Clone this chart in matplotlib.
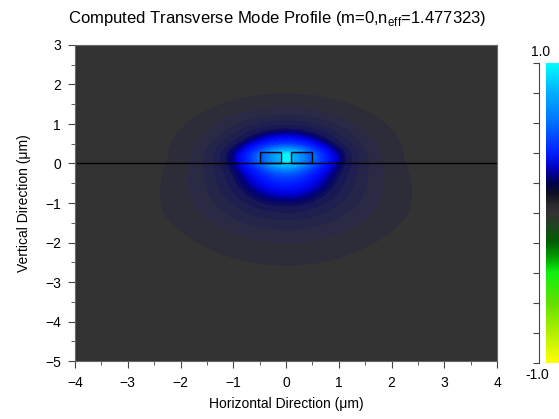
import numpy as np
import matplotlib
matplotlib.use("Agg")
import matplotlib.pyplot as plt
from matplotlib.colors import LinearSegmentedColormap
from matplotlib.patches import Rectangle

plt.rcParams['font.family'] = ['Liberation Sans', 'DejaVu Sans']
plt.rcParams['mathtext.fontset'] = 'custom'
plt.rcParams['mathtext.rm'] = 'Liberation Sans'
plt.rcParams['font.size'] = 10

# mode / structure parameters (um)
core_y = 0.15          # vertical centre of the mode
width_x = 0.8          # lateral scale above the substrate
grow_x = 0.15          # lateral widening per um into the substrate
grow_max = 1.5         # depth where the widening stops
scale_up = 0.58        # vertical scale into the cover
scale_down = 0.98      # vertical scale into the substrate
core_flat = 0.7        # flat top of the profile
decay = 0.8            # exponential tail length
guide_share = 0.25     # part of the field held in the rib layer
guide_x = 0.9          # lateral size of that part
guide_y = 0.28         # vertical size of that part
rib_left = [-0.5, 0.1] # left edges of the two ribs
rib_width = 0.4
rib_height = 0.3
rib_factor = 0.88      # field inside the ribs relative to the slot

# colours of the field (value, colour)
field_vals = [0.0, 0.075, 0.125, 0.175, 0.225, 0.275, 0.3, 0.35, 0.42, 0.5,
              0.6, 0.7, 0.8, 0.9, 1.0]
field_cols = ['#333333', '#2d2d3a', '#2a2a45', '#25254a', '#1f1f50', '#181856',
              '#121258', '#000070', '#0000d8', '#0010ff', '#0034ff', '#0060ff',
              '#0090ff', '#00c0ff', '#00ffff']
levels = [0.05, 0.1, 0.15, 0.2, 0.25, 0.3] + list(np.arange(0.325, 1.0001, 0.025))

# colour bar scale (value, colour)
bar_vals = [-1.0, -0.8, -0.6, -0.4, -0.3, -0.2, -0.05, 0.0,
            0.05, 0.12, 0.2, 0.3, 0.4, 0.6, 0.8, 1.0]
bar_cols = ['#ffff00', '#b0f000', '#60e000', '#10f010', '#00a000', '#006000',
            '#2a3a2a', '#333333', '#2a2a2e', '#101022', '#000050', '#0000c0',
            '#0020ff', '#0070ff', '#00b0ff', '#00ffff']

field_cmap = LinearSegmentedColormap.from_list('field', list(zip(field_vals, field_cols)))
bar_cmap = LinearSegmentedColormap.from_list(
    'bar', list(zip([(v + 1) / 2 for v in bar_vals], bar_cols)))

# field on a grid
x = np.linspace(-4, 4, 801)
y = np.linspace(-5, 3, 801)
X, Y = np.meshgrid(x, y)
dy = Y - core_y
sy = np.where(dy > 0, scale_up, scale_down)
sx = width_x * (1 + grow_x * np.clip(-dy, 0, grow_max))
r = np.sqrt((X / sx) ** 2 + (dy / sy) ** 2)
broad = np.exp(-(np.sqrt(r ** 2 + core_flat ** 2) - core_flat) / decay)
guided = np.exp(-(X / guide_x) ** 2 - (dy / guide_y) ** 2)
E = (1 - guide_share) * broad + guide_share * guided
for xl in rib_left:
    inside = (X > xl) & (X < xl + rib_width) & (Y > 0) & (Y < rib_height)
    E = np.where(inside, E * rib_factor, E)

fig = plt.figure(figsize=(5.59, 4.19), dpi=100)
ax = fig.add_axes([75 / 559, 1 - 361 / 419, 422 / 559, 316 / 419])
ax.set_facecolor('#333333')
ax.contourf(X, Y, E, levels=levels, cmap=field_cmap, vmin=0, vmax=1)
ax.plot([-3.96, 3.98], [0, 0], color='black', lw=1)
for xl in rib_left:
    ax.add_patch(Rectangle((xl, 0), rib_width, rib_height, fill=False,
                           edgecolor='black', lw=1))

ax.set_xlim(-4, 4)
ax.set_ylim(-5, 3)
ax.set_xticks(range(-4, 5))
ax.set_yticks(range(-5, 4))
ax.set_xticks(np.arange(-3.5, 4, 1), minor=True)
ax.set_yticks(np.arange(-4.5, 3, 1), minor=True)
ax.tick_params(which='both', direction='out', top=False, right=False, color='#444444')
ax.tick_params(which='major', length=5)
ax.tick_params(which='minor', length=3)
ax.tick_params(axis='x', pad=6)
ax.tick_params(axis='y', pad=5)
for s in ax.spines.values():
    s.set_color('#666666')
ax.set_xlabel('Horizontal Direction (\u03bcm)', labelpad=5)
ax.set_ylabel('Vertical Direction (\u03bcm)', labelpad=10)
ax.set_title(r'Computed Transverse Mode Profile (m=0,n$_{\mathrm{eff}}$=1.477323)',
             pad=16, x=0.48)

# colour bar
cax = fig.add_axes([539 / 559, 1 - 363 / 419, 20 / 559, 300 / 419])
grad = np.linspace(-1, 1, 256).reshape(-1, 1)
cax.imshow(grad, cmap=bar_cmap, vmin=-1, vmax=1, origin='lower', aspect='auto',
           extent=(0.35, 1.0, -1, 1))
cax.set_xlim(0, 1)
cax.set_ylim(-1, 1)
for k in ['top', 'right', 'bottom']:
    cax.spines[k].set_visible(False)
cax.spines['left'].set_color('#444444')
cax.set_xticks([])
cax.set_yticks(np.arange(-1, 1.01, 0.2))
cax.set_yticklabels([])
cax.tick_params(axis='y', direction='out', length=4, color='#444444')
cax.text(0.1, 1.03, '1.0', ha='center', va='bottom', transform=cax.get_yaxis_transform())
cax.text(-0.1, -1.03, '-1.0', ha='center', va='top', transform=cax.get_yaxis_transform())

fig.savefig('out.png', dpi=100)
